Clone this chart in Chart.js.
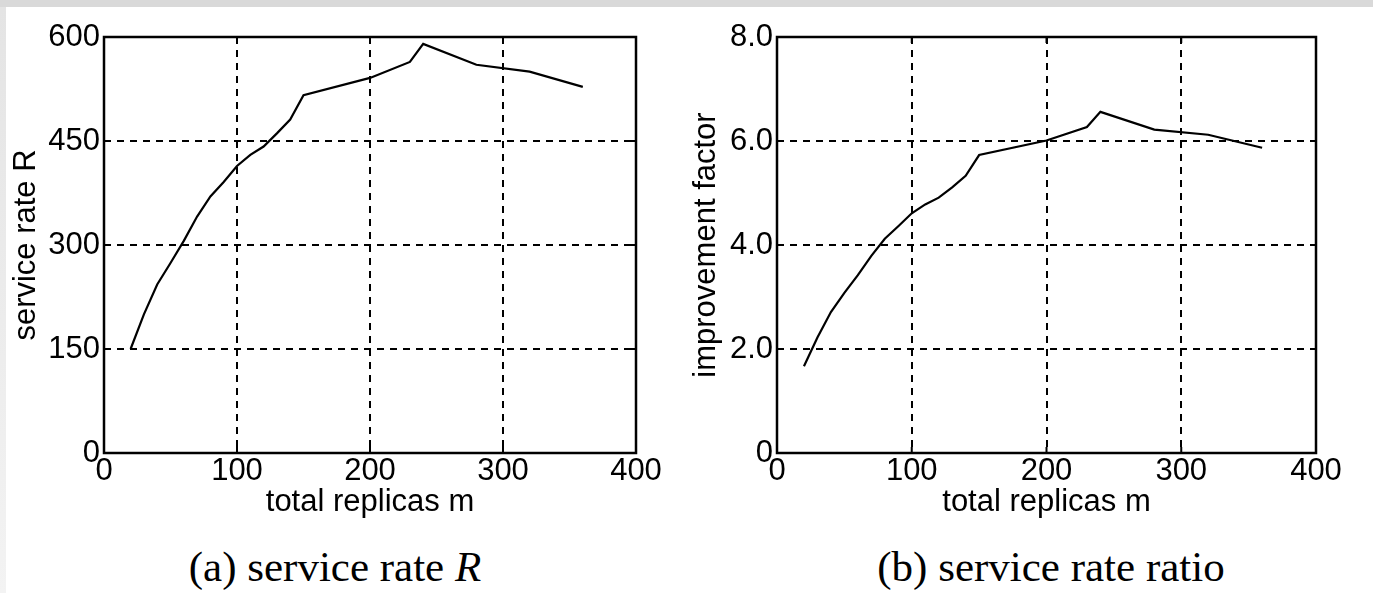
<!DOCTYPE html>
<html><head><meta charset="utf-8">
<script src="https://cdn.jsdelivr.net/npm/chart.js@4"></script>
<style>
html,body{margin:0;padding:0;background:#fff;width:1373px;height:593px;overflow:hidden;position:relative}
#topbar{position:absolute;left:0;top:0;width:1373px;height:7px;background:#d9d9d9}
#leftbar{position:absolute;left:0;top:7px;width:6px;height:586px;background:linear-gradient(to bottom,#e4e4e4,#f3f3f3)}
.box{position:absolute;top:0;height:525px}
#boxA{left:0;width:680px}
#boxB{left:680px;width:693px}
.cap{position:absolute;top:545px;font-family:'Liberation Serif','Times New Roman',serif;font-size:43px;line-height:43px;white-space:nowrap;transform:translateX(-50%);color:#000}
</style></head>
<body>
<div id="topbar"></div><div id="leftbar"></div>
<div class="box" id="boxA"><canvas id="cA" width="680" height="525"></canvas></div>
<div class="box" id="boxB"><canvas id="cB" width="693" height="525"></canvas></div>
<div class="cap" style="left:335px">(a) service rate <i>R</i></div>
<div class="cap" style="left:1051px">(b) service rate ratio</div>
<script>
// ---- data ----
const replicas = [20,30,40,50,60,70,80,90,100,110,120,130,140,150,200,230,240,280,320,360];
const serviceRate = [150,200,243,274,306,341,370,391,414,430,442,461,481,516,541,564,590,560,550,528];
const improvementFactor = [1.67,2.22,2.71,3.08,3.42,3.79,4.12,4.36,4.61,4.78,4.91,5.11,5.33,5.73,6.01,6.27,6.56,6.22,6.12,5.87];
const xTicks = [0,100,200,300,400];
const xTickLabels = ['0','100','200','300','400'];
const yTicksA = [0,150,300,450,600];
const yTickLabelsA = ['0','150','300','450','600'];
const yTicksB = [0,2,4,6,8];
const yTickLabelsB = ['0','2.0','4.0','6.0','8.0'];

const font = {family:"'Liberation Sans', Arial, Helvetica, sans-serif", size:31};

const framePlugin = {
  id:'frame',
  afterDraw(chart){
    const {ctx, chartArea:a, scales} = chart;
    ctx.save();
    ctx.strokeStyle = '#000';
    ctx.setLineDash([]);
    ctx.lineWidth = 2;
    const tl = 6;
    scales.x.ticks.forEach(t=>{
      const p = scales.x.getPixelForValue(t.value);
      ctx.beginPath(); ctx.moveTo(p,a.bottom); ctx.lineTo(p,a.bottom-tl);
      ctx.moveTo(p,a.top); ctx.lineTo(p,a.top+tl); ctx.stroke();
    });
    scales.y.ticks.forEach(t=>{
      const p = scales.y.getPixelForValue(t.value);
      ctx.beginPath(); ctx.moveTo(a.left,p); ctx.lineTo(a.left+tl,p);
      ctx.moveTo(a.right,p); ctx.lineTo(a.right-tl,p); ctx.stroke();
    });
    ctx.lineWidth = 2.5;
    ctx.strokeRect(a.left, a.top, a.right-a.left, a.bottom-a.top);
    ctx.restore();
  }
};

function makeChart(id, ys, yMax, yTicks, yLabels, yTitle, yAxisWidth, padRight){
  return new Chart(document.getElementById(id), {
    type:'line',
    data:{datasets:[{
      data: replicas.map((m,i)=>({x:m, y:ys[i]})),
      borderColor:'#000', borderWidth:2.2, pointRadius:0, tension:0, fill:false
    }]},
    options:{
      responsive:false, animation:false, devicePixelRatio:1,
      layout:{padding:{left:0, top:37, right:padRight, bottom:0}},
      plugins:{legend:{display:false}, tooltip:{enabled:false}},
      scales:{
        x:{
          type:'linear', min:0, max:400,
          afterBuildTicks:s=>{ s.ticks = xTicks.map(v=>({value:v})); },
          ticks:{callback:(v,i)=>xTickLabels[i], font, color:'#000', padding:0, maxRotation:0, autoSkip:false},
          grid:{color:'#000', lineWidth:2, drawTicks:false, borderDash:[7,6]},
          border:{display:false, dash:[7,6]},
          title:{display:true, text:'total replicas m', font, color:'#000', padding:{top:0, bottom:4}},
          afterFit:s=>{ s.height = 72; }
        },
        y:{
          type:'linear', min:0, max:yMax,
          afterBuildTicks:s=>{ s.ticks = yTicks.map(v=>({value:v})); },
          ticks:{callback:(v,i)=>yLabels[i], font, color:'#000', padding:4, autoSkip:false},
          grid:{color:'#000', lineWidth:2, drawTicks:false, borderDash:[7,6]},
          border:{display:false, dash:[7,6]},
          title:{display:true, text:yTitle, font, color:'#000', padding:{top:8, bottom:0}},
          afterFit:s=>{ s.width = yAxisWidth; }
        }
      }
    },
    plugins:[framePlugin]
  });
}

makeChart('cA', serviceRate, 600, yTicksA, yTickLabelsA, 'service rate R', 104, 44);
makeChart('cB', improvementFactor, 8, yTicksB, yTickLabelsB, 'improvement factor', 97, 57);
</script>
</body></html>
